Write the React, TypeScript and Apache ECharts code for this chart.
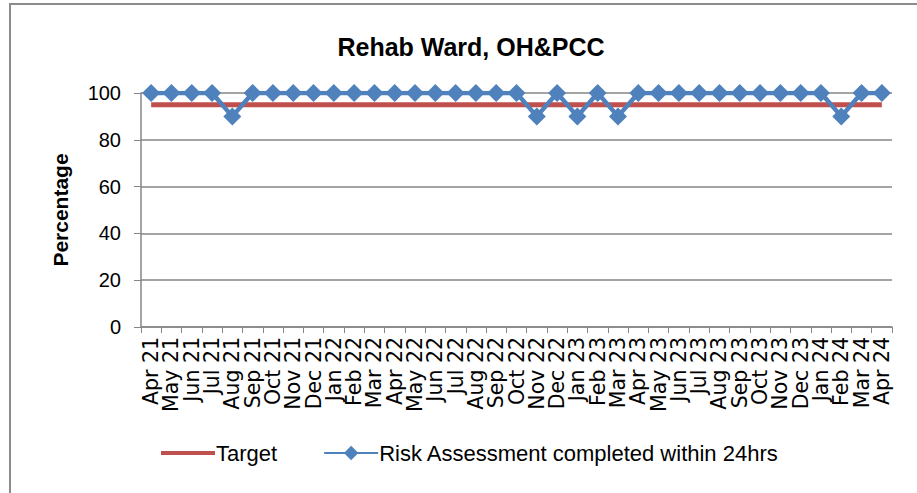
import React, { useEffect, useRef } from "react";
import * as echarts from "echarts";

const categories = [
  "Apr 21", "May 21", "Jun 21", "Jul 21", "Aug 21", "Sep 21", "Oct 21", "Nov 21", "Dec 21",
  "Jan 22", "Feb 22", "Mar 22", "Apr 22", "May 22", "Jun 22", "Jul 22", "Aug 22", "Sep 22", "Oct 22", "Nov 22", "Dec 22",
  "Jan 23", "Feb 23", "Mar 23", "Apr 23", "May 23", "Jun 23", "Jul 23", "Aug 23", "Sep 23", "Oct 23", "Nov 23", "Dec 23",
  "Jan 24", "Feb 24", "Mar 24", "Apr 24",
];

const targetValues = categories.map(() => 95);

const riskValues = [
  100, 100, 100, 100, 90, 100, 100, 100, 100,
  100, 100, 100, 100, 100, 100, 100, 100, 100, 100, 90, 100,
  90, 100, 90, 100, 100, 100, 100, 100, 100, 100, 100, 100,
  100, 90, 100, 100,
];

const yTicks = [0, 20, 40, 60, 80, 100];

const FONT = "'Liberation Sans', Arial, sans-serif";

export default function App() {
  const ref = useRef<HTMLDivElement>(null);
  useEffect(() => {
    if (!ref.current) return;
    const chart = echarts.init(ref.current, null, { renderer: "svg" });
    chart.setOption({
      animation: false,
      backgroundColor: "#ffffff",
      graphic: [
        {
          type: "rect",
          shape: { x: 10, y: 4, width: 930, height: 520 },
          style: { fill: "none", stroke: "#8c8c8c", lineWidth: 2 },
          silent: true,
        },
      ],
      title: {
        text: "Rehab Ward, OH&PCC",
        left: 466,
        textAlign: "center",
        top: 29,
        textStyle: { fontFamily: FONT, fontWeight: "bold", fontSize: 25, color: "#000" },
      },
      legend: {
        bottom: 24,
        left: 156,
        itemGap: 46,
        itemWidth: 54,
        itemHeight: 18,
        textStyle: { fontFamily: FONT, fontSize: 22, color: "#000", padding: [0, 0, 0, -4] },
        data: [
          { name: "Target", icon: "path://M0,7 L54,7 L54,11 L0,11 Z" },
          { name: "Risk Assessment completed within 24hrs" },
        ],
      },
      grid: { left: 141, right: 25, top: 93, bottom: 166, containLabel: false },
      xAxis: {
        type: "category",
        data: categories,
        boundaryGap: true,
        axisLine: { lineStyle: { color: "#868686", width: 1.5 } },
        axisTick: { show: true, interval: 0, length: 6, lineStyle: { color: "#868686" } },
        axisLabel: {
          interval: 0,
          rotate: 90,
          fontFamily: "'DejaVu Sans', sans-serif",
          fontSize: 20.5,
          color: "#000",
          margin: 10,
        },
      },
      yAxis: {
        type: "value",
        min: 0,
        max: 100,
        interval: 20,
        name: "Percentage",
        nameLocation: "middle",
        nameGap: 70,
        nameTextStyle: { fontFamily: FONT, fontWeight: "bold", fontSize: 21, color: "#000" },
        axisLine: { show: true, lineStyle: { color: "#868686", width: 1.5 } },
        axisTick: { show: true, length: 7, lineStyle: { color: "#868686" } },
        axisLabel: {
          fontFamily: FONT,
          fontSize: 20,
          color: "#000",
          margin: 20,
          formatter: (v: number) => (yTicks.includes(v) ? String(v) : ""),
        },
        splitLine: { show: true, lineStyle: { color: "#868686", width: 1.5 } },
      },
      series: [
        {
          name: "Target",
          type: "line",
          data: targetValues,
          symbol: "none",
          lineStyle: { color: "#C0504D", width: 5 },
          itemStyle: { color: "#C0504D" },
          z: 2,
        },
        {
          name: "Risk Assessment completed within 24hrs",
          type: "line",
          data: riskValues,
          symbol: "diamond",
          symbolSize: 18,
          lineStyle: { color: "#4F81BD", width: 4.5 },
          itemStyle: { color: "#4F81BD" },
          z: 3,
        },
      ],
    });
    return () => chart.dispose();
  }, []);
  return (
    <div
      ref={ref}
      style={{ position: "absolute", left: 0, top: 0, width: 917, height: 493 }}
    />
  );
}
